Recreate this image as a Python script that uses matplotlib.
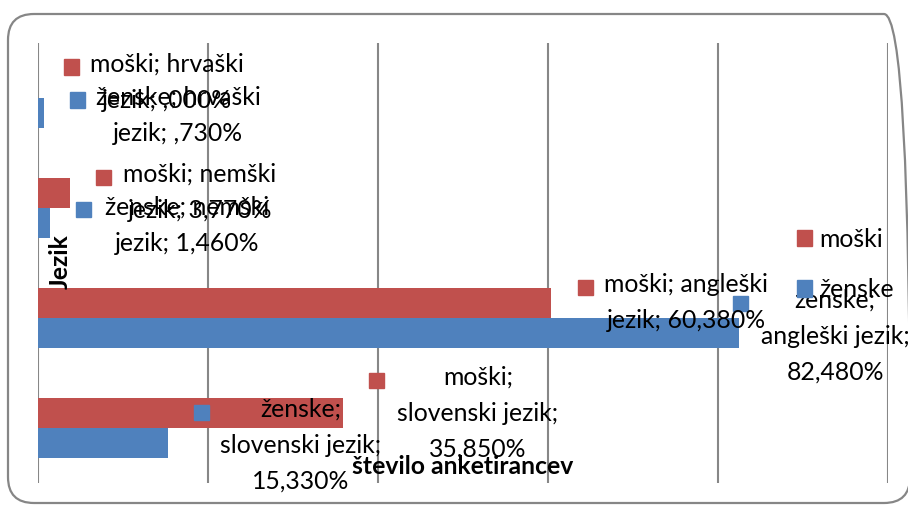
import matplotlib.pyplot as plt
from matplotlib.patches import Rectangle, FancyBboxPatch, Patch
from matplotlib.transforms import IdentityTransform
import numpy as np

categories = ["slovenski jezik", "angleški jezik", "nemški jezik", "hrvaški jezik"]
series = ["moški", "ženske"]
moski = [35.85, 60.38, 3.77, 0.00]
zenske = [15.33, 82.48, 1.46, 0.73]

RED = "#C0504D"
BLUE = "#4F81BD"
GRID = "#878787"
W, H = 908, 505
FONT = "Lato"
FS = 17.8

# data label layout, pixels: series idx, category idx, text centre x, first line y, key x, wrap style
LABEL_LAYOUT = [
    (0, 3, 167, 67, 71, "word"),
    (1, 3, 178, 100, 77, "word"),
    (0, 2, 200, 177, 103, "word"),
    (1, 2, 187, 210, 83, "word"),
    (0, 1, 686, 287, 585, "word"),
    (1, 1, 835, 303, 740, "full"),
    (0, 0, 478, 380, 376, "full"),
    (1, 0, 301, 412, 201, "full"),
]


def pct(v):
    s = f"{v:.3f}".replace(".", ",")
    if s.startswith("0,"):
        s = s[1:]
    return s + "%"


def label_text(s, cat, val, style):
    if style == "word":
        first, second = cat.split()
        return f"{s}; {first}\n{second}; {pct(val)}"
    return f"{s};\n{cat};\n{pct(val)}"


plt.rcParams["font.family"] = [FONT, "DejaVu Sans"]

fig = plt.figure(figsize=(W / 100, H / 100), dpi=100)
ax = fig.add_axes([38 / W, 1 - 483 / H, 850 / W, 440 / H])

y = np.arange(len(categories))
bh = 30 / 110
ax.barh(y + bh / 2, moski, height=bh, color=RED, label=series[0])
ax.barh(y - bh / 2, zenske, height=bh, color=BLUE, label=series[1])

ax.set_xlim(0, 100)
ax.set_ylim(-0.5, len(categories) - 0.5)
ax.set_xticks(range(0, 101, 20))
ax.set_yticks([])
ax.tick_params(length=0, labelbottom=False)
ax.grid(axis="x", color=GRID, lw=1.5)
ax.set_axisbelow(True)
for sp in ax.spines.values():
    sp.set_visible(False)

values = [moski, zenske]
colors = [RED, BLUE]
for si, ci, cx, y1, kx, style in LABEL_LAYOUT:
    txt = label_text(series[si], categories[ci], values[si][ci], style)
    fig.text(cx / W, 1 - (y1 - 14) / H, txt, ha="center", va="top",
             multialignment="center", fontsize=FS, linespacing=1.68, color="black")
    fig.add_artist(Rectangle(((kx - 7.5) / W, 1 - (y1 + 7.5) / H), 15 / W, 15 / H,
                             transform=fig.transFigure, color=colors[si]))

handles = [Patch(color=RED), Patch(color=BLUE)]
fig.legend(handles, series, loc="upper left", bbox_to_anchor=(797 / W, 1 - 228 / H),
           frameon=False, fontsize=FS, handlelength=0.62, handleheight=0.62,
           handletextpad=0.3, labelspacing=1.1, borderaxespad=0, borderpad=0)

fig.text(60 / W, 1 - 262 / H, "Jezik", rotation=90, ha="center", va="center",
         fontsize=FS, fontweight="bold")
fig.text(463 / W, 1 - 466 / H, "število anketirancev", ha="center", va="center",
         fontsize=FS, fontweight="bold")

border = FancyBboxPatch((8, H - 503), 902, 489, boxstyle="round,pad=0,rounding_size=26",
                        transform=IdentityTransform(), fill=False, ec="#868686", lw=1.6)
fig.add_artist(border)

fig.savefig("out.png", dpi=100)
